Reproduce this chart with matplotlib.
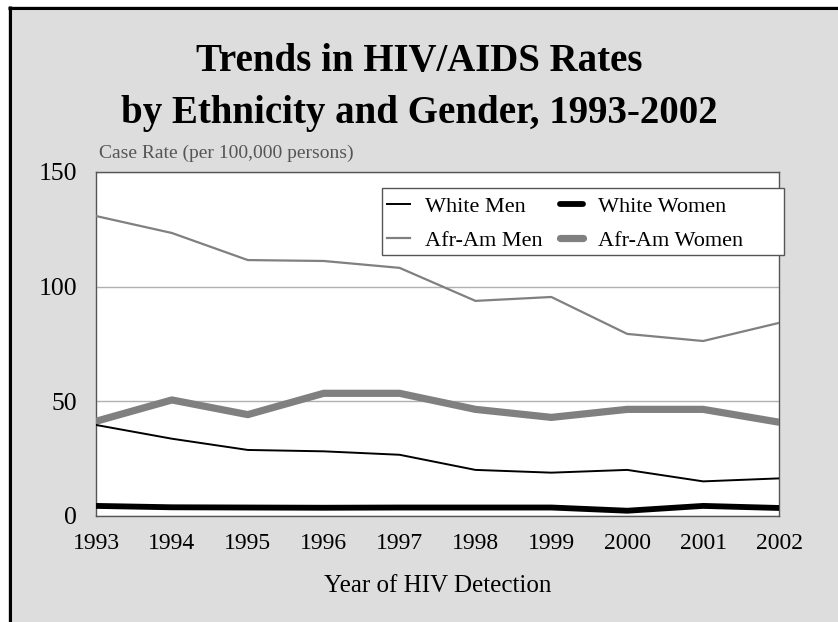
import matplotlib
matplotlib.use("Agg")
import matplotlib.pyplot as plt
from matplotlib.patches import Rectangle
from matplotlib.lines import Line2D

years = [1993, 1994, 1995, 1996, 1997, 1998, 1999, 2000, 2001, 2002]
white_men = [39.7, 33.7, 28.8, 28.2, 26.7, 20.1, 18.9, 20.1, 15.1, 16.4]
white_women = [4.4, 3.8, 3.7, 3.6, 3.7, 3.7, 3.7, 2.3, 4.4, 3.5]
afram_men = [130.8, 123.4, 111.6, 111.2, 108.2, 93.8, 95.5, 79.4, 76.3, 84.2]
afram_women = [41.3, 50.6, 44.2, 53.5, 53.5, 46.5, 43.0, 46.5, 46.5, 40.9]
yticks = [0, 50, 100, 150]

W, H = 838, 622
plt.rcParams["font.family"] = ["Liberation Serif", "DejaVu Serif"]

fig = plt.figure(figsize=(W / 100, H / 100), dpi=100, facecolor="#dddddd")


def px_rect(x0, y0, x1, y1, **kw):
    # rectangle given in pixel coords measured from the top-left corner
    return Rectangle((x0 / W, 1 - y1 / H), (x1 - x0) / W, (y1 - y0) / H,
                     transform=fig.transFigure, **kw)


# white margin and black frame edges
fig.patches.append(px_rect(0, 0, 8, H, facecolor="white", edgecolor="none", zorder=0))
fig.patches.append(px_rect(0, 0, W, 6, facecolor="white", edgecolor="none", zorder=0))
fig.lines.append(Line2D([8 / W, 1], [1 - 7.5 / H] * 2, transform=fig.transFigure,
                        color="black", lw=2.2, solid_capstyle="butt"))
fig.lines.append(Line2D([9.5 / W] * 2, [0, 1 - 6 / H], transform=fig.transFigure,
                        color="black", lw=2.2, solid_capstyle="butt"))

ax = fig.add_axes([96 / W, 1 - 516 / H, (779 - 96) / W, (516 - 172) / H])
ax.set_facecolor("white")

ax.plot(years, afram_men, color="#808080", lw=1.6, label="Afr-Am Men", zorder=3)
ax.plot(years, afram_women, color="#808080", lw=5.2, solid_capstyle="round",
        solid_joinstyle="round", label="Afr-Am Women", zorder=3)
ax.plot(years, white_men, color="black", lw=1.4, label="White Men", zorder=4)
ax.plot(years, white_women, color="black", lw=4.2, solid_capstyle="round",
        solid_joinstyle="round", label="White Women", zorder=4)

ax.set_xlim(1993, 2002)
ax.set_ylim(0, 150)
ax.set_xticks(years)
ax.set_yticks(yticks)
ax.tick_params(length=0, colors="black")
ax.tick_params(axis="y", pad=13.5, labelsize=18.5)
ax.tick_params(axis="x", pad=12.5, labelsize=17)
for s in ax.spines.values():
    s.set_color("#555555")
    s.set_linewidth(1.0)
ax.yaxis.grid(True, color="#b0b0b0", lw=1.0)
ax.set_axisbelow(True)

ax.set_xlabel("Year of HIV Detection", fontsize=18, labelpad=15)
fig.text(99 / W, 1 - 153 / H, "Case Rate (per 100,000 persons)", fontsize=14,
         color="#555555", ha="left", va="center")

fig.text(0.5, 1 - 61 / H, "Trends in HIV/AIDS Rates", fontsize=28,
         fontweight="bold", ha="center", va="center")
fig.text(0.5, 1 - 113 / H, "by Ethnicity and Gender, 1993-2002", fontsize=28,
         fontweight="bold", ha="center", va="center")

# legend box drawn separately so it keeps its wide right margin
fig.patches.append(px_rect(382, 188, 784, 255, facecolor="white",
                           edgecolor="#555555", lw=1.0, zorder=4))
h = {l.get_label(): l for l in ax.get_lines()}
order = ["White Men", "Afr-Am Men", "White Women", "Afr-Am Women"]
fig.legend([h[k] for k in order], order, ncol=2, fontsize=16,
           loc="upper left", bbox_to_anchor=(387 / W, 1 - 196 / H),
           frameon=False, handlelength=1.05, handletextpad=0.68,
           columnspacing=0.75, borderpad=0, labelspacing=0.62,
           borderaxespad=0)

fig.savefig("out.png", dpi=100, facecolor=fig.get_facecolor())
